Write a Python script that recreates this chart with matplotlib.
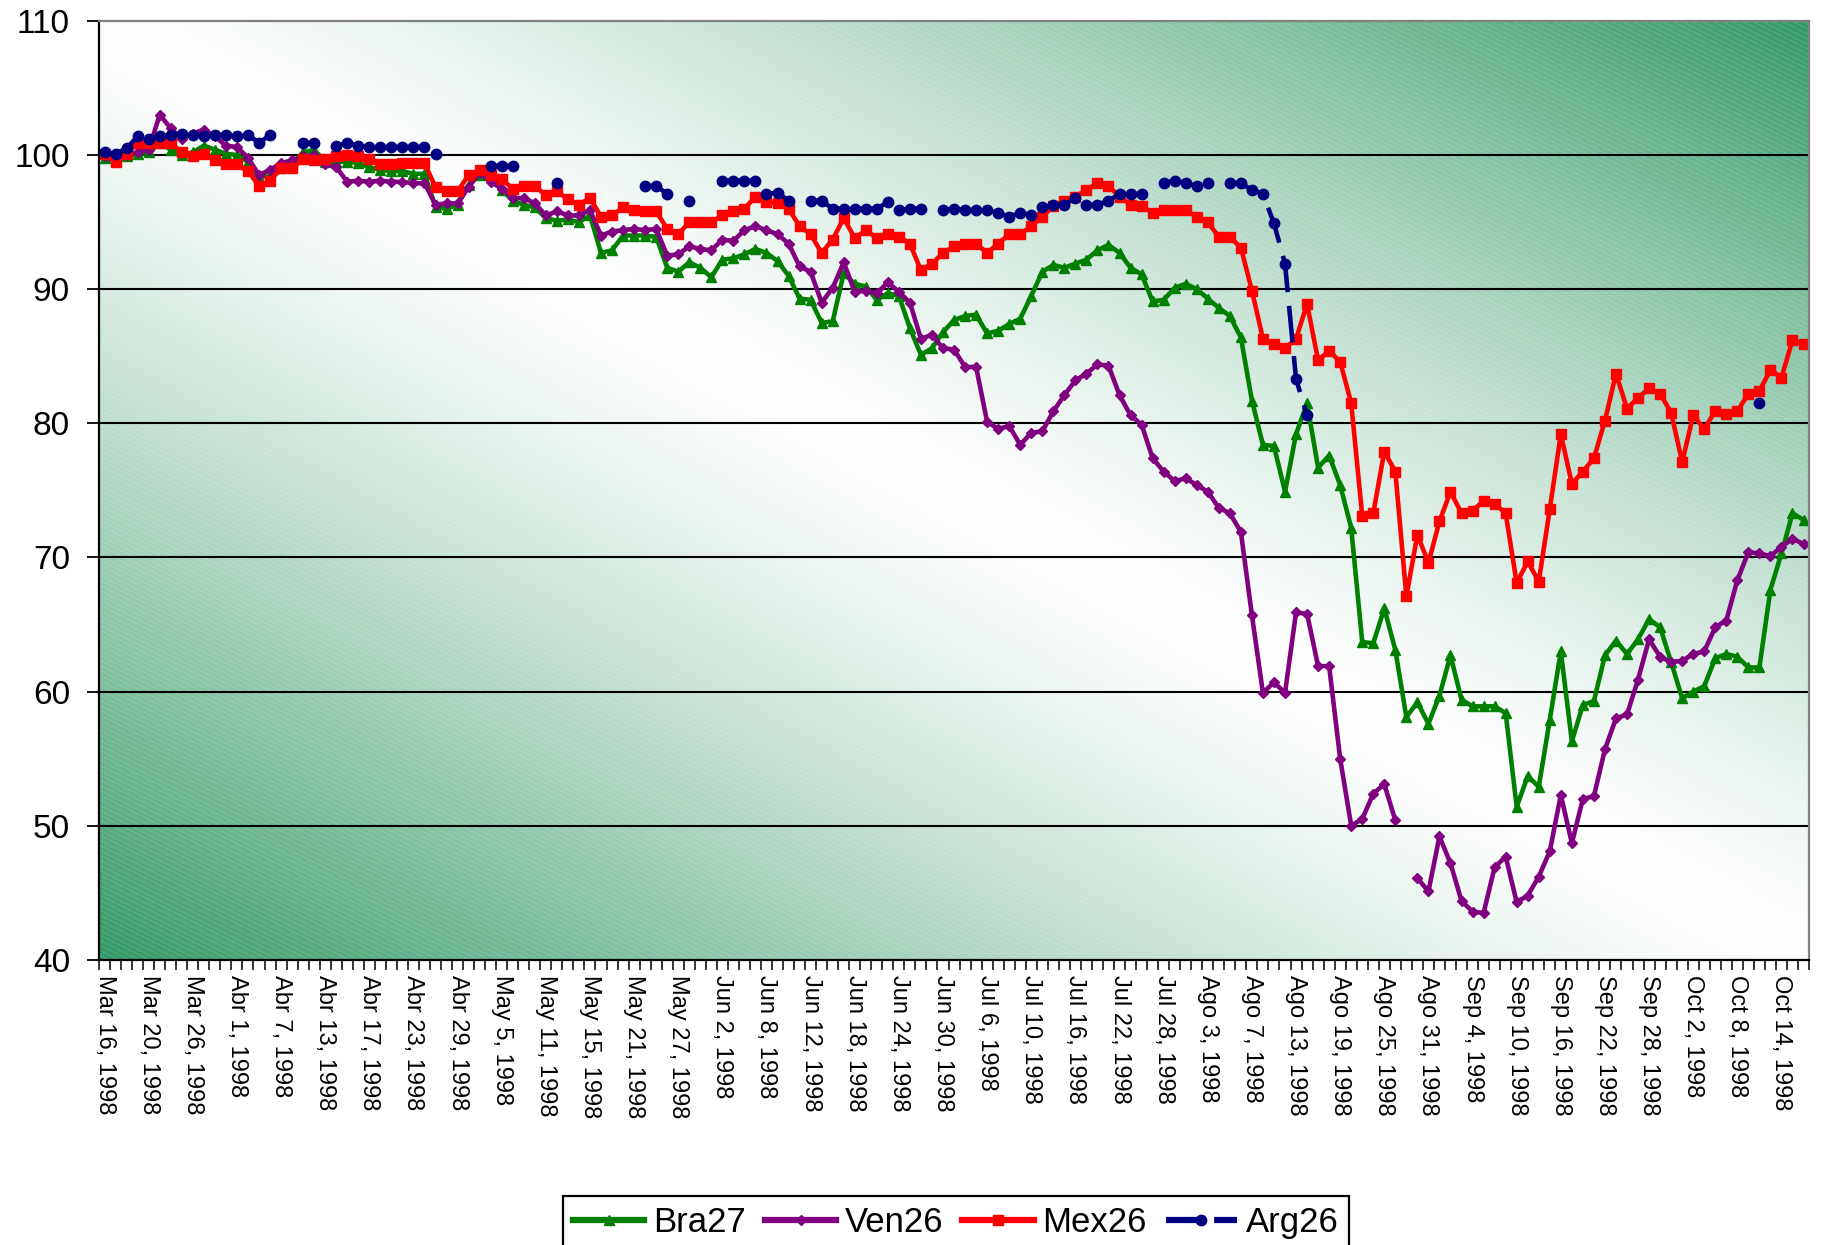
import numpy as np
import matplotlib
matplotlib.use("Agg")
import matplotlib.pyplot as plt
from matplotlib.collections import LineCollection

nan = np.nan

# labels for every fourth trading day
date_labels = [
    "Mar 16, 1998", "Mar 20, 1998", "Mar 26, 1998", "Abr 1, 1998", "Abr 7, 1998",
    "Abr 13, 1998", "Abr 17, 1998", "Abr 23, 1998", "Abr 29, 1998", "May 5, 1998",
    "May 11, 1998", "May 15, 1998", "May 21, 1998", "May 27, 1998", "Jun 2, 1998",
    "Jun 8, 1998", "Jun 12, 1998", "Jun 18, 1998", "Jun 24, 1998", "Jun 30, 1998",
    "Jul 6, 1998", "Jul 10, 1998", "Jul 16, 1998", "Jul 22, 1998", "Jul 28, 1998",
    "Ago 3, 1998", "Ago 7, 1998", "Ago 13, 1998", "Ago 19, 1998", "Ago 25, 1998",
    "Ago 31, 1998", "Sep 4, 1998", "Sep 10, 1998", "Sep 16, 1998", "Sep 22, 1998",
    "Sep 28, 1998", "Oct 2, 1998", "Oct 8, 1998", "Oct 14, 1998",
]

# daily bond prices, Mar 16 - Oct 16 1998 (trading days)
bra27 = [
    99.8, 99.6, 99.9, 100.1, 100.2, 100.9, 100.4, 100.0, 100.2, 100.7,
    100.4, 100.1, 100.0, 99.5, 98.4, 98.4, 99.0, 99.4, 100.2, 100.4,
    99.5, 99.5, 99.5, 99.4, 99.1, 98.9, 98.8, 98.8, 98.6, 98.6,
    96.1, 96.0, 96.3, 97.8, 98.5, 98.4, 97.4, 96.6, 96.3, 96.1,
    95.3, 95.1, 95.2, 95.0, 95.5, 92.7, 92.9, 94.0, 94.0, 94.0,
    93.9, 91.6, 91.3, 92.0, 91.6, 90.9, 92.2, 92.3, 92.6, 93.0,
    92.7, 92.1, 91.0, 89.3, 89.2, 87.5, 87.6, 91.2, 90.4, 90.2,
    89.2, 89.7, 89.5, 87.1, 85.1, 85.6, 86.8, 87.7, 88.0, 88.1,
    86.7, 86.9, 87.4, 87.8, 89.5, 91.3, 91.8, 91.6, 91.9, 92.2,
    92.9, 93.3, 92.7, 91.6, 91.1, 89.1, 89.2, 90.1, 90.4, 90.0,
    89.3, 88.6, 88.0, 86.4, 81.7, 78.4, 78.3, 74.9, 79.2, 81.5,
    76.7, 77.6, 75.4, 72.2, 63.7, 63.6, 66.2, 63.1, 58.1, 59.2,
    57.6, 59.7, 62.7, 59.4, 58.9, 58.9, 58.9, 58.4, 51.4, 53.7,
    52.9, 57.9, 63.0, 56.3, 59.0, 59.3, 62.7, 63.8, 62.8, 63.9,
    65.4, 64.8, 62.2, 59.5, 60.0, 60.4, 62.5, 62.8, 62.6, 61.8,
    61.8, 67.6, 70.3, 73.3, 72.8,
]

ven26 = [
    99.9, 99.5, 100.0, 100.2, 100.4, 103.0, 102.0, 101.2, 101.6, 101.9,
    101.4, 100.7, 100.6, 99.8, 98.5, 98.9, 99.4, 99.6, 99.9, 100.0,
    99.3, 99.1, 98.0, 98.1, 98.0, 98.1, 98.0, 98.0, 97.9, 97.9,
    96.3, 96.4, 96.4, 97.6, 98.7, 98.0, 97.5, 96.8, 96.8, 96.4,
    95.5, 95.8, 95.5, 95.5, 95.9, 94.0, 94.3, 94.4, 94.5, 94.4,
    94.5, 92.5, 92.6, 93.2, 93.0, 92.9, 93.7, 93.6, 94.4, 94.7,
    94.4, 94.1, 93.4, 91.7, 91.3, 89.0, 90.1, 92.0, 89.8, 89.9,
    89.7, 90.5, 89.8, 89.0, 86.3, 86.6, 85.6, 85.5, 84.2, 84.2,
    80.1, 79.6, 79.8, 78.4, 79.3, 79.4, 80.9, 82.1, 83.2, 83.7,
    84.4, 84.3, 82.1, 80.6, 79.9, 77.4, 76.4, 75.7, 75.9, 75.4,
    74.9, 73.7, 73.3, 71.9, 65.7, 59.9, 60.7, 59.9, 65.9, 65.8,
    61.9, 61.9, 55.0, 50.0, 50.5, 52.4, 53.1, 50.4, nan, 46.1,
    45.1, 49.2, 47.2, 44.4, 43.6, 43.5, 46.9, 47.7, 44.3, 44.8,
    46.2, 48.1, 52.3, 48.7, 52.0, 52.2, 55.7, 58.0, 58.3, 60.9,
    63.9, 62.6, 62.2, 62.3, 62.8, 63.0, 64.8, 65.3, 68.3, 70.4,
    70.3, 70.1, 70.8, 71.4, 71.0,
]

mex26 = [
    100.1, 99.5, 100.1, 100.9, 100.9, 100.9, 100.9, 100.2, 99.9, 100.1,
    99.6, 99.3, 99.3, 98.8, 97.7, 98.1, 99.0, 99.0, 99.7, 99.6,
    99.7, 99.9, 100.0, 99.9, 99.7, 99.3, 99.3, 99.4, 99.4, 99.4,
    97.6, 97.3, 97.3, 98.5, 98.9, 98.5, 98.2, 97.5, 97.7, 97.7,
    97.0, 97.3, 96.7, 96.3, 96.8, 95.4, 95.5, 96.1, 95.9, 95.8,
    95.8, 94.5, 94.1, 95.0, 95.0, 95.0, 95.5, 95.8, 96.0, 96.9,
    96.5, 96.4, 96.0, 94.7, 94.1, 92.7, 93.7, 95.3, 93.8, 94.4,
    93.8, 94.1, 93.9, 93.4, 91.4, 91.9, 92.7, 93.2, 93.4, 93.4,
    92.7, 93.4, 94.1, 94.1, 94.7, 95.4, 96.2, 96.6, 96.9, 97.4,
    97.9, 97.7, 96.9, 96.3, 96.2, 95.7, 95.9, 95.9, 95.9, 95.4,
    95.0, 93.9, 93.9, 93.1, 89.9, 86.3, 85.9, 85.6, 86.3, 88.9,
    84.7, 85.4, 84.6, 81.5, 73.1, 73.3, 77.9, 76.4, 67.1, 71.7,
    69.6, 72.7, 74.9, 73.3, 73.5, 74.2, 74.0, 73.3, 68.1, 69.7,
    68.2, 73.6, 79.2, 75.5, 76.4, 77.4, 80.2, 83.7, 81.1, 81.9,
    82.6, 82.2, 80.8, 77.1, 80.6, 79.6, 80.9, 80.7, 80.9, 82.2,
    82.4, 84.0, 83.4, 86.2, 85.9,
]

arg26 = [
    100.2, 100.1, 100.5, 101.4, 101.2, 101.4, 101.5, 101.6, 101.5, 101.4,
    101.5, 101.5, 101.4, 101.5, 100.9, 101.5, nan, nan, 100.9, 100.9,
    nan, 100.7, 100.9, 100.7, 100.6, 100.6, 100.6, 100.6, 100.6, 100.6,
    100.1, nan, nan, nan, nan, 99.2, 99.2, 99.2, nan, nan,
    nan, 97.9, nan, nan, nan, nan, nan, nan, nan, 97.7,
    97.7, 97.1, nan, 96.6, nan, nan, 98.1, 98.1, 98.1, 98.1,
    97.1, 97.2, 96.6, nan, 96.6, 96.6, 96.0, 96.0, 96.0, 96.0,
    96.0, 96.5, 95.9, 96.0, 96.0, nan, 95.9, 96.0, 95.9, 95.9,
    95.9, 95.7, 95.4, 95.7, 95.5, 96.1, 96.3, 96.3, 96.8, 96.3,
    96.3, 96.6, 97.1, 97.1, 97.1, nan, 97.9, 98.1, 97.9, 97.7,
    97.9, nan, 97.9, 97.9, 97.4, 97.1, 94.9, 91.9, 83.3, 80.6,
    nan, nan, nan, nan, nan, nan, nan, nan, nan, nan,
    nan, nan, nan, nan, nan, nan, nan, nan, nan, nan,
    nan, nan, nan, nan, nan, nan, nan, nan, nan, nan,
    nan, nan, nan, nan, nan, nan, nan, nan, nan, nan,
    81.5, nan, nan, nan, nan,
]

n = len(bra27)
x = np.arange(n)

font = "Liberation Sans"

fig = plt.figure(figsize=(18.24, 12.45), dpi=100)
ax = fig.add_axes([0.0543, 0.229, 0.9375, 0.7542])

# plot area fill: sea green in the two off-diagonal corners, white along the diagonal
u, v = np.meshgrid(np.linspace(0, 1, 500), np.linspace(1, 0, 350))
d = np.abs(u + v - 1) ** 1.3
green = np.array([0.2, 0.6, 0.4])
bg = 1 - d[..., None] * (1 - green)
ax.imshow(bg, extent=[-0.5, n - 0.5, 40, 110], aspect="auto",
          interpolation="bilinear", zorder=-3)

# fine light stripes over the fill, falling 1 px for every 2 px across
W, H = 1710.0, 939.0
segs = [[((x0) / W, 1.0), ((x0 + 2 * H) / W, 0.0)]
        for x0 in np.arange(-2 * H, W, 10.0)]
ax.add_collection(LineCollection(segs, transform=ax.transAxes,
                                 colors=[(1, 1, 1, 0.16)], linewidths=0.7,
                                 zorder=-2))

for t in range(50, 101, 10):
    ax.axhline(t, color="black", lw=1.5, zorder=-1)

lw = 3.3
ax.plot(x, bra27, color="#008000", lw=lw, marker="^", ms=7, label="Bra27")
ax.plot(x, ven26, color="#800080", lw=lw, marker="D", ms=5.5, label="Ven26")
ax.plot(x, mex26, color="#FF0000", lw=lw, marker="s", ms=7.5, label="Mex26")
ax.plot(x, arg26, color="#000080", lw=lw, ls=(0, (8, 3)), marker="o", ms=7.5,
        label="Arg26")

ax.set_xlim(-0.5, n - 0.5)
ax.set_ylim(40, 110)

yt = list(range(40, 111, 10))
ax.set_yticks(yt, [str(t) for t in yt], fontsize=24, fontfamily=font)
ax.tick_params(axis="y", length=9, width=1.3, pad=12)

ax.set_xticks(np.arange(0, n, 4), date_labels, rotation=-90, fontsize=17,
              fontfamily=font)
ax.set_xticks(np.arange(-0.5, n), minor=True)
ax.tick_params(axis="x", which="major", length=0, pad=11)
ax.tick_params(axis="x", which="minor", length=7, width=1.1, direction="out")

for side in ("left", "bottom"):
    ax.spines[side].set_color("black")
    ax.spines[side].set_linewidth(1.6)
for side in ("top", "right"):
    ax.spines[side].set_color("#808080")
    ax.spines[side].set_linewidth(1.6)

leg = fig.legend(loc="upper center", bbox_to_anchor=(0.524, 0.0394), ncol=4,
                 frameon=True, fancybox=False, edgecolor="black", framealpha=1,
                 prop={"family": font, "size": 25}, handlelength=2.05,
                 handletextpad=0.25, columnspacing=0.55, borderpad=0.3,
                 borderaxespad=0)
leg.get_frame().set_linewidth(1.6)
# thicker legend keys; keep the Arg26 key as long dash, marker, short dash
legend_lines = leg.get_lines()
for line in legend_lines:
    line.set_linewidth(4.5)
legend_lines[3].set_linestyle((0, (5.5, 2.2)))

fig.savefig("out.png", dpi=100)
